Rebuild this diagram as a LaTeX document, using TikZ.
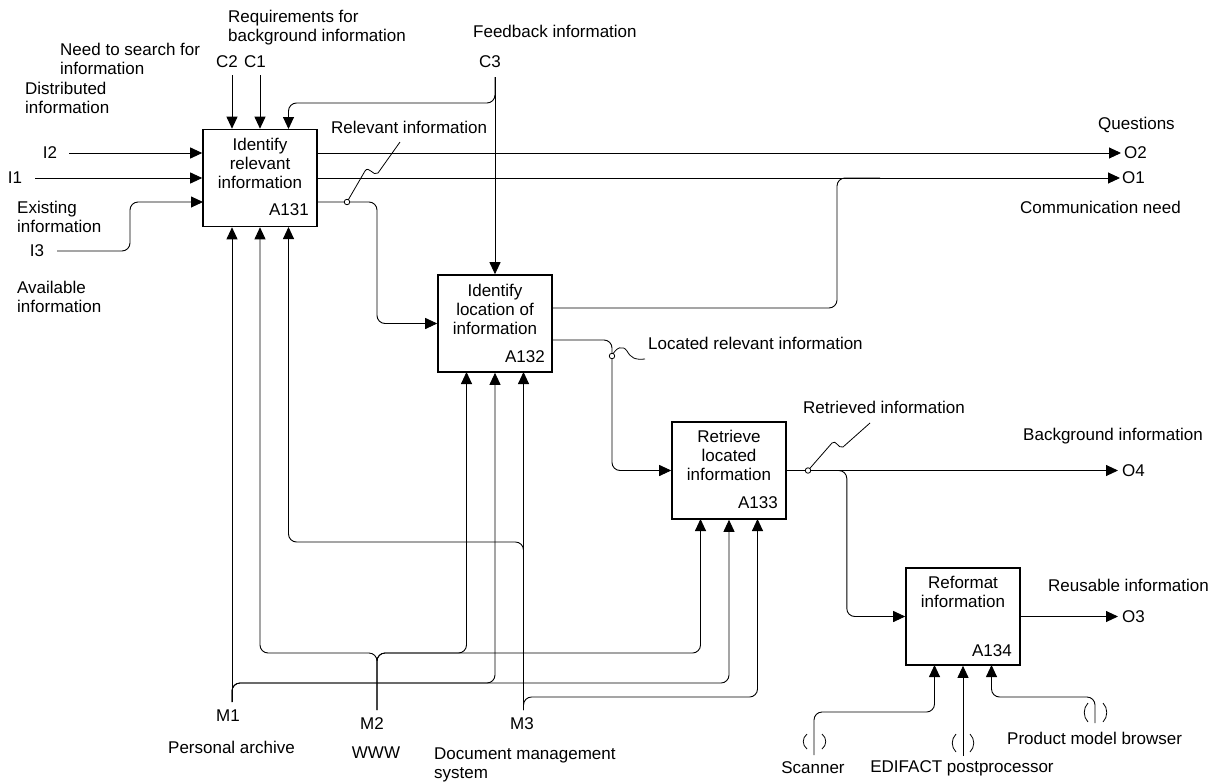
\documentclass[tikz,border=0pt]{standalone}
\usepackage{fontspec}
\setmainfont{Liberation Sans}
\usetikzlibrary{arrows.meta}
\begin{document}
\begin{tikzpicture}[x=1pt,y=-1pt,
  every node/.style={font=\fontsize{17}{19}\selectfont, inner sep=0pt},
  proc/.style={draw, line width=1.6pt, minimum width=114pt, minimum height=97pt, inner sep=0pt},
  conn/.style={line width=0.9pt, rounded corners=8pt},
  arr/.style={conn, -{Triangle[length=12pt,width=11pt]}},
  squig/.style={line width=0.8pt},
  paren/.style={line width=0.8pt},
  dotc/.style={circle, draw, line width=0.8pt, minimum size=5.5pt, fill=white}
]
\useasboundingbox (0,0) rectangle (1218,782);

% boxes
\node[proc] (a131) at (260,178) {};
\node[proc] (a132) at (495,323.5) {};
\node[proc] (a133) at (729,470.5) {};
\node[proc] (a134) at (963,616.5) {};

\node[align=center] (t131) at (260,163) {Identify\\relevant\\information};
\node[anchor=east] (n131) at (309,210) {A131};
\node[align=center] (t132) at (495,309) {Identify\\location of\\information};
\node[anchor=east] (n132) at (545,357) {A132};
\node[align=center] (t133) at (729,455) {Retrieve\\located\\information};
\node[anchor=east] (n133) at (778,503) {A133};
\node[align=center] (t134) at (963,592) {Reformat\\information};
\node[anchor=east] (n134) at (1012,651) {A134};

% free ends and ports
\coordinate (i2) at (69,153);
\coordinate (i1) at (35,178);
\coordinate (i3) at (57,251);
\coordinate (c2) at (232,75);
\coordinate (c1) at (260,75);
\coordinate (c3) at (495,77);
\coordinate (o2) at (1121,153);
\coordinate (o1) at (1120,178);
\coordinate (o4) at (1118,470.5);
\coordinate (o3) at (1118,616.5);
\coordinate (m1) at (232,702);
\coordinate (m2) at (377,710);
\coordinate (m3) at (523.5,710);
\coordinate (sc) at (814,755);
\coordinate (ed) at (963,756);
\coordinate (pm) at (1095,723);

\coordinate (p131i3) at (203,202);
\coordinate (p131o3) at (317,202);
\coordinate (p131c3) at (288.5,129);
\coordinate (p131m3) at (288.5,227);
\coordinate (p132o1) at (552,308);
\coordinate (p132o2) at (552,340);
\coordinate (p132m1) at (466.5,372);
\coordinate (p132m3) at (523.5,372);
\coordinate (p133m1) at (700.5,519);
\coordinate (p133m3) at (757.5,519);
\coordinate (p134m1) at (934.5,665);
\coordinate (p134m3) at (991.5,665);

\coordinate (d1) at (347,202);
\coordinate (d2) at (612,356);
\coordinate (d3) at (808,470.5);

% inputs
\draw[arr] (i2) -- (i2 -| a131.west);
\draw[arr] (i1) -- (a131.west);
\draw[arr] (i3) -- ++(73,0) |- (p131i3);

% controls
\draw[arr] (c2) -- (c2 |- a131.north);
\draw[arr] (c1) -- (a131.north);
\draw[arr] (c3) -- (a132.north);
\draw[arr] (c3) -- ++(0,26) -| (p131c3);

% outputs
\draw[arr] (a131.east |- o2) -- (o2);
\draw[arr] (a131.east) -- (o1);
\draw[conn] (p132o1) -- (837,308) -- (837,178) -- (880,178);
\draw[arr] (p131o3) -- ++(60,0) |- (a132.west);
\draw[arr] (p132o2) -- ++(60,0) |- (a133.west);
\draw[arr] (a133.east) -- (o4);
\draw[arr] (a133.east) -- ++(60,0) |- (a134.west);
\draw[arr] (a134.east) -- (o3);

% mechanisms
\draw[arr] (m1) -- (m1 |- a131.south);
\draw[arr] (m1) -- ++(0,-19) -| (a132.south);
\draw[arr] (m1) -- ++(0,-19) -| (a133.south);
\draw[arr] (m2) -- ++(0,-57) -| (a131.south);
\draw[arr] (m2) -- ++(0,-57) -| (p132m1);
\draw[arr] (m2) -- ++(0,-57) -| (p133m1);
\draw[arr] (m3) -- (p132m3);
\draw[arr] (m3) -- ++(0,-168) -| (p131m3);
\draw[arr] (m3) -- ++(0,-13) -| (p133m3);
\draw[arr] (sc) -- ++(0,-43) -| (p134m1);
\draw[arr] (ed) -- (ed |- a134.south);
\draw[arr] (pm) -- ++(0,-26) -| (p134m3);

% tunnel parentheses
\draw[paren] (807,734) .. controls (802,738) and (802,745) .. (807,749);
\draw[paren] (822,734) .. controls (827,738) and (827,745) .. (822,749);
\draw[paren] (956,734) .. controls (951,739) and (951,747) .. (956,752);
\draw[paren] (970,734) .. controls (975,739) and (975,747) .. (970,752);
\draw[paren] (1088,703) .. controls (1083,708) and (1083,717) .. (1088,722);
\draw[paren] (1103,703) .. controls (1108,708) and (1108,717) .. (1103,722);

% squiggles
\draw[squig] (d1) -- (365,171) .. controls (369,165) and (373,177) .. (378,173) -- (400,142);
\draw[squig] (d2) .. controls (616,347) and (623,345) .. (627,351) .. controls (631,358) and (635,360) .. (645,359);
\draw[squig] (d3) -- (832,443) .. controls (836,439) and (838,449) .. (843,447) -- (870,423);
\node[dotc] (d1c) at (d1) {};
\node[dotc] (d2c) at (d2) {};
\node[dotc] (d3c) at (d3) {};

% labels
\node[anchor=west,align=left] (lreq) at (228,27.5) {Requirements for\\background information};
\node[anchor=west,align=left] (lneed) at (60,59) {Need to search for\\information};
\node[anchor=west,align=left] (ldist) at (25,98) {Distributed\\information};
\node (lc2) at (227,62) {C2};
\node (lc1) at (255,62) {C1};
\node[anchor=west] (lfb) at (473,31) {Feedback information};
\node (lc3) at (490,62) {C3};
\node (li2) at (50,153) {I2};
\node (li1) at (15,178) {I1};
\node (li3) at (37,251) {I3};
\node[anchor=west,align=left] (lexist) at (17,217) {Existing\\information};
\node[anchor=west,align=left] (lavail) at (17,296.5) {Available\\information};
\node[anchor=west] (lrel) at (331,127) {Relevant information};
\node[anchor=west] (lq) at (1098,125) {Questions};
\node[anchor=west] (lo2) at (1124,153) {O2};
\node[anchor=west] (lo1) at (1122,178) {O1};
\node[anchor=east] (lcomm) at (1181,207) {Communication need};
\node[anchor=west] (lloc) at (648,343) {Located relevant information};
\node[anchor=west] (lret) at (803,407) {Retrieved information};
\node[anchor=west] (lbg) at (1023,436) {Background information};
\node[anchor=west] (lo4) at (1122,471) {O4};
\node[anchor=west] (lreu) at (1048,585) {Reusable information};
\node[anchor=west] (lo3) at (1122,617) {O3};
\node (lm1) at (228,716) {M1};
\node (lm2) at (372,724) {M2};
\node (lm3) at (522,724) {M3};
\node[anchor=east] (lpa) at (295,747) {Personal archive};
\node (lwww) at (376,753) {WWW};
\node[anchor=west,align=left] (ldms) at (434,764.5) {Document management\\system};
\node (lscan) at (813,768) {Scanner};
\node (ledi) at (962,768) {EDIFACT postprocessor};
\node[anchor=west] (lpmb) at (1007,738) {Product model browser};
\end{tikzpicture}
\end{document}
